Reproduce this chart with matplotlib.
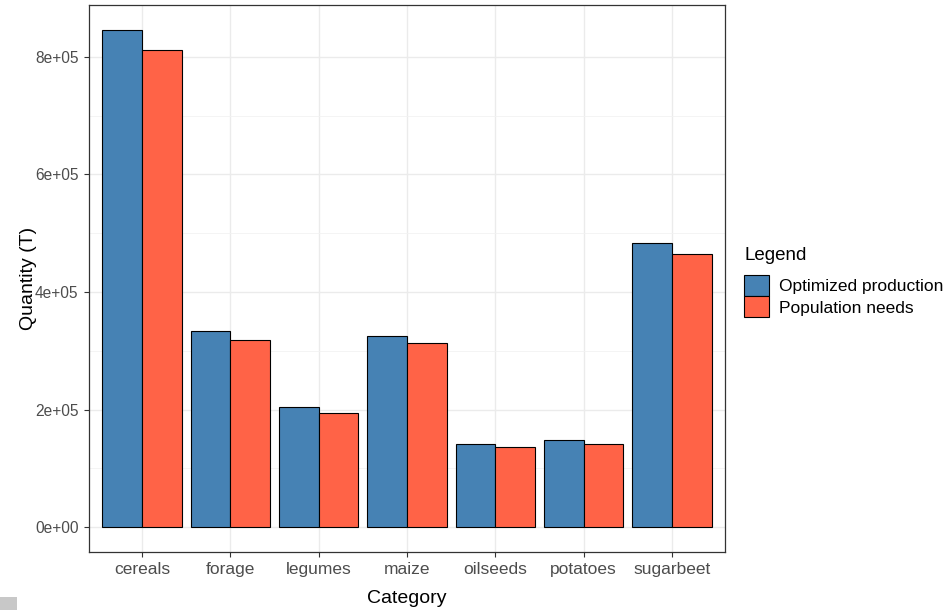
import numpy as np
import matplotlib.pyplot as plt
from matplotlib.patches import Patch, Rectangle

plt.rcParams['font.family'] = ['Liberation Sans', 'DejaVu Sans']

categories = ['cereals', 'forage', 'legumes', 'maize', 'oilseeds', 'potatoes', 'sugarbeet']
optimized = [846000, 333000, 204000, 325000, 141500, 148000, 483500]
needs = [812500, 318700, 194500, 314000, 136500, 141500, 465000]
series_names = ['Optimized production', 'Population needs']
colors = ['#4682B4', '#FF6347']

fig = plt.figure(figsize=(9.47, 6.1), dpi=100)
ax = fig.add_axes([89/947, 58/610, 636/947, 547/610])

x = np.arange(1, len(categories) + 1)
w = 0.45
ax.bar(x - w/2, optimized, width=w, color=colors[0], edgecolor='black', linewidth=0.8, zorder=3)
ax.bar(x + w/2, needs, width=w, color=colors[1], edgecolor='black', linewidth=0.8, zorder=3)

# ggplot-like limits and grid
top = max(optimized)
ax.set_xlim(0.4, len(categories) + 0.6)
ax.set_ylim(-0.05*top, 1.05*top)
ax.set_xticks(x)
ax.set_xticklabels(categories)
yt = [0, 200000, 400000, 600000, 800000]
ax.set_yticks(yt)
ax.set_yticklabels(['0e+00', '2e+05', '4e+05', '6e+05', '8e+05'])
ax.set_yticks([100000, 300000, 500000, 700000], minor=True)
ax.grid(True, which='major', color='#EBEBEB', linewidth=1.0, zorder=0)
ax.grid(True, which='minor', axis='y', color='#F2F2F2', linewidth=0.6, zorder=0)
ax.set_axisbelow(True)
for s in ax.spines.values():
    s.set_color('#333333')
    s.set_linewidth(0.9)
ax.tick_params(which='major', length=3.5, width=0.8, color='#333333', labelcolor='#4D4D4D', pad=4)
ax.tick_params(axis='x', which='major', labelsize=12.5)
ax.tick_params(axis='y', which='major', labelsize=11.2)
ax.tick_params(which='minor', length=0)

ax.set_xlabel('Category', fontsize=14)
ax.set_ylabel('Quantity (T)', fontsize=14)
ax.xaxis.set_label_coords(0.5, -(590 - 552) / 547)
ax.yaxis.set_label_coords(-(89 - 37) / 636, 0.5)

handles = [Patch(facecolor=c, edgecolor='black', linewidth=0.8) for c in colors]
leg = fig.legend(handles, series_names, title='Legend', loc='upper left',
                 bbox_to_anchor=(744/947, 1 - 247/610), frameon=False,
                 fontsize=12.5, title_fontsize=13.5, alignment='left',
                 handlelength=1.45, handleheight=1.5, labelspacing=0.0,
                 handletextpad=0.55, borderaxespad=0, borderpad=0)
leg._legend_box.sep = 8

fig.patches.append(Rectangle((0, 0), 17/947, 13/610, transform=fig.transFigure,
                             facecolor='#C8C8C8', edgecolor='none'))

fig.savefig('out.png', dpi=100)
